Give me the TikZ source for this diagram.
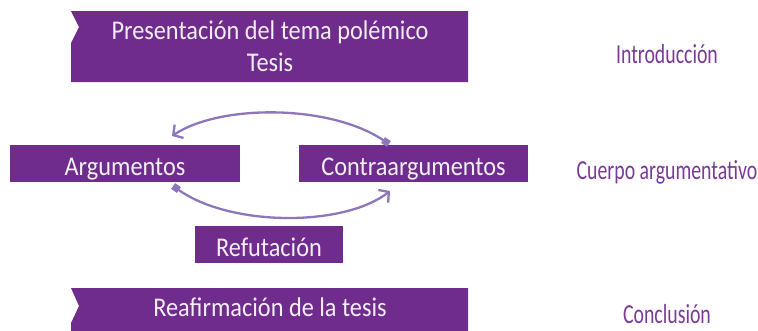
\documentclass[tikz,border=0pt]{standalone}
\usepackage{fontspec}
\setmainfont{Carlito}[FakeStretch=0.9]
\newfontfamily\labfont{Carlito}[FakeStretch=0.72]
\usetikzlibrary{arrows.meta}
\definecolor{boxpurple}{RGB}{112,44,140}
\definecolor{arcpurple}{RGB}{142,118,186}
\definecolor{labpurple}{RGB}{122,58,154}
\definecolor{boxtext}{RGB}{242,238,246}
\begin{document}
\begin{tikzpicture}[x=1pt,y=-1pt,
  box/.style={fill=boxpurple, inner sep=0pt},
  boxtxt/.style={text=boxtext, inner sep=0pt, align=center, anchor=base, font=\fontsize{27}{32.4}\selectfont},
  lab/.style={text=labpurple, inner sep=0pt, anchor=base, font=\labfont\fontsize{27.5}{30}\selectfont},
  arc/.style={draw=arcpurple, line width=2.3pt}
]
\useasboundingbox (0,0) rectangle (758,330);
% top block
\fill[boxpurple] (71,11) -- (79,27) -- (71,43) -- (71,82) -- (468,82) -- (468,11) -- cycle;
\node[boxtxt] (intro) at (270,71.8) {Presentación del tema polémico\\Tesis};
% middle blocks
\node[box, minimum width=230pt, minimum height=37pt] (arg) at (125,163.5) {};
\node[boxtxt] (argt) at (arg.center |- 0,175) {Argumentos};
\node[box, minimum width=229pt, minimum height=37pt] (contra) at (413.5,163.5) {};
\node[boxtxt] (contrat) at (contra.center |- 0,175) {Contraargumentos};
\node[box, minimum width=148pt, minimum height=37pt] (refu) at (269,244) {};
\node[boxtxt] (refut) at (refu.center |- 0,256) {Refutación};
% bottom block
\fill[boxpurple] (71,288) -- (79,306) -- (71,323) -- (71,331) -- (468,331) -- (468,288) -- cycle;
\node[boxtxt] (concl) at (270,316.5) {Reafirmación de la tesis};
% arcs
\coordinate (u1) at (386,142);
\coordinate (u2) at (172,136);
\coordinate (l1) at (176,188);
\coordinate (l2) at (390,191);
\draw[arc, {Square[length=7pt,width=7pt,sep=-3.5pt]}-{Straight Barb[length=7pt,width=16pt]}] (u1) .. controls (330,104) and (220,104) .. (u2);
\draw[arc, {Square[length=7pt,width=7pt,sep=-3.5pt]}-{Straight Barb[length=7pt,width=16pt]}] (l1) .. controls (230,227) and (344,227) .. (l2);
% right labels
\node[lab] (lintro) at (667,63.3) {Introducción};
\node[lab] (lcuerpo) at (667,179) {Cuerpo argumentativo};
\node[lab] (lconcl) at (667,323) {Conclusión};
\end{tikzpicture}
\end{document}
